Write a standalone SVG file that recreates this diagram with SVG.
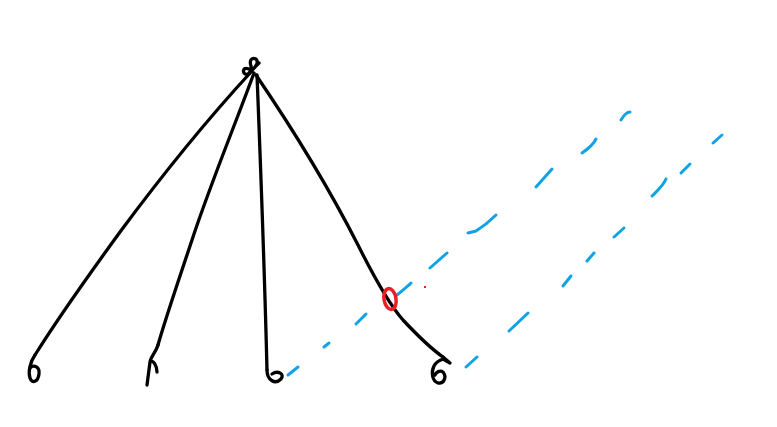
<svg xmlns="http://www.w3.org/2000/svg" width="777" height="427" viewBox="0 0 777 427">
<style>
.k{fill:none;stroke:#000;stroke-width:3.3;stroke-linecap:round;stroke-linejoin:round}
.b{fill:none;stroke:#0fa3e6;stroke-width:3;stroke-linecap:round;stroke-linejoin:round}
.r{fill:none;stroke:#ee1c24;stroke-width:3.5}
</style>
<rect width="777" height="427" fill="#fff"/>
<g id="apex">
<path class="k" d="M252,71 C246,66 242,69 244,73 C247,77 252,72 251,66 C249,60 252,57 256,59 C259,62 256,67 252,70 M252,70 L259,63"/>
</g>
<g id="connectors">
<path class="k" d="M251,72 C205,122 160,178 120,232 C88,276 60,315 35,355"/>
<path class="k" d="M254,73 C235,125 210,185 192,240 C177,285 165,320 158,345"/>
<path class="k" d="M257,75 C260,150 264,250 267,370"/>
<path class="k" d="M256,75 C290,125 330,190 358,245 C373,275 388,303 403,320 C418,336 430,348 443,357"/>
</g>
<g id="leaf1">
<path class="k" d="M35,355 C30,362 28,372 30,378 C32,384 38,382 39,374 C40,367 34,364 30,368"/>
</g>
<g id="leaf2">
<path class="k" d="M158,345 C156,352 151,356 150,362 L147,385 M150,362 C153,359 157,366 157,372"/>
</g>
<g id="leaf3">
<path class="k" d="M267,370 C267,380 275,385 281,379 C285,374 278,370 272,374"/>
</g>
<g id="leaf4">
<path class="k" d="M443,357 L450,363 L443,359 C440,360 436,362 434,366 C431,372 432,381 438,383 C444,384 447,377 443,372 C440,370 436,372 435,375"/>
</g>
<g id="guides">
<path class="b" d="M288,375 L298,367"/>
<path class="b" d="M324,347 L329,343"/>
<path class="b" d="M356,324 L366,314"/>
<path class="b" d="M397,295 C403,290 407,287 411,283"/>
<path class="b" d="M430,268 L447,253"/>
<path class="b" d="M468,233 L476,231 C484,226 490,221 496,215"/>
<path class="b" d="M536,187 L552,169"/>
<path class="b" d="M582,153 C588,149 593,145 596,139"/>
<path class="b" d="M621,120 C624,115 627,112 630,112"/>
<path class="b" d="M466,367 L477,357"/>
<path class="b" d="M509,331 L528,313"/>
<path class="b" d="M563,286 L571,276"/>
<path class="b" d="M587,261 L594,253"/>
<path class="b" d="M614,237 L624,228"/>
<path class="b" d="M652,196 C658,190 663,186 666,179"/>
<path class="b" d="M681,173 L690,164"/>
<path class="b" d="M713,143 L722,135"/>
</g>
<g id="marker">
<ellipse class="r" cx="390" cy="299" rx="6" ry="10.5" transform="rotate(-10 390 299)"/>
<rect x="424" y="286" width="2" height="2" fill="#ee1c24"/>
</g>
</svg>
